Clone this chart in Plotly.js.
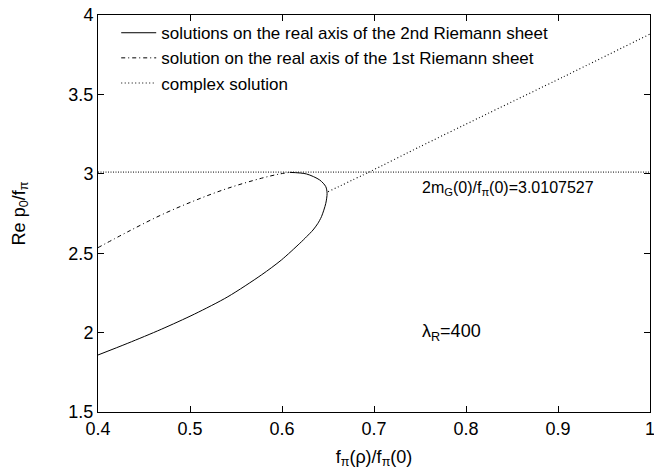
<!DOCTYPE html>
<html>
<head>
<meta charset="utf-8">
<script src="https://cdn.plot.ly/plotly-3.0.1.min.js"></script>
<style>
html,body{margin:0;padding:0;background:#fff;}
#chart{width:654px;height:471px;}
</style>
</head>
<body>
<div id="chart"></div>
<script>
// 2nd Riemann sheet (solid), lower branch through the turning point to the top
var sheet2X = [0.400, 0.4324, 0.4688, 0.505, 0.5412, 0.5776, 0.5993, 0.6193, 0.6269, 0.6337, 0.6388, 0.6429, 0.6476, 0.6490, 0.6476, 0.6410, 0.6266, 0.6084];
var sheet2Y = [1.859, 1.933, 2.021, 2.117, 2.226, 2.363, 2.457, 2.562, 2.605, 2.646, 2.686, 2.730, 2.814, 2.877, 2.919, 2.961, 2.999, 3.009];
// 1st Riemann sheet (dash-dot)
var sheet1X = [0.400, 0.4324, 0.4688, 0.505, 0.5412, 0.5776, 0.5975, 0.6084];
var sheet1Y = [2.535, 2.635, 2.741, 2.831, 2.909, 2.972, 2.999, 3.009];
// complex solution (dotted)
var complexX = [0.650, 0.695, 0.750, 0.815, 0.906, 1.000];
var complexY = [2.887, 3.012, 3.171, 3.355, 3.611, 3.880];
// threshold 2mG(0)/fπ(0)
var thresholdX = [0.4, 1.0];
var thresholdValue = 3.0107527;
var thresholdY = [thresholdValue, thresholdValue];

var legendNames = [
  'solutions on the real axis of the 2nd Riemann sheet',
  'solution on the real axis of the 1st Riemann sheet',
  'complex solution'
];
var xTicks = [0.4, 0.5, 0.6, 0.7, 0.8, 0.9, 1.0];
var yTicks = [1.5, 2, 2.5, 3, 3.5, 4];

var FONT = 'Liberation Sans, Arial, Helvetica, sans-serif';

var traces = [
  {x: sheet2X, y: sheet2Y, mode: 'lines', name: legendNames[0],
   line: {color: '#000', width: 1, shape: 'spline', smoothing: 0.8}},
  {x: sheet1X, y: sheet1Y, mode: 'lines', name: legendNames[1],
   line: {color: '#000', width: 1, dash: '4px,3px,1px,3px', shape: 'spline', smoothing: 1}},
  {x: complexX, y: complexY, mode: 'lines', name: legendNames[2],
   line: {color: '#000', width: 1.1, dash: '1px,2.5px', shape: 'spline', smoothing: 0.6}},
  {x: thresholdX, y: thresholdY, mode: 'lines', showlegend: false,
   line: {color: '#000', width: 1, dash: '1px,1.5px'}}
];

var axisCommon = {
  showgrid: false, zeroline: false, showline: true, mirror: 'ticks',
  linecolor: '#000', linewidth: 1, ticks: 'inside', ticklen: 6, tickcolor: '#000',
  ticklabeloverflow: 'allow',
  tickfont: {family: FONT, size: 18, color: '#000'}
};

var layout = {
  width: 654, height: 471,
  margin: {l: 98, r: 4, t: 15, b: 59},
  paper_bgcolor: '#fff', plot_bgcolor: '#fff',
  font: {family: FONT, color: '#000'},
  xaxis: Object.assign({}, axisCommon, {
    range: [0.4, 1.0], tickvals: xTicks, ticktext: xTicks.map(function(v){return String(v);}),
    title: {text: 'f<sub>π</sub>(ρ)/f<sub>π</sub>(0)', font: {family: FONT, size: 18}, standoff: 12}
  }),
  yaxis: Object.assign({}, axisCommon, {
    range: [1.5, 4.0], tickvals: yTicks, ticktext: yTicks.map(function(v){return String(v);}),
    title: {text: 'Re p<sub>0</sub>/f<sub>π</sub>', font: {family: FONT, size: 18}, standoff: 38}
  }),
  legend: {
    x: 0.033, y: 0.9995, xanchor: 'left', yanchor: 'top',
    bgcolor: 'rgba(0,0,0,0)', borderwidth: 0,
    font: {family: FONT, size: 17, color: '#000'},
    itemwidth: 35,
    tracegroupgap: 0
  },
  annotations: [
    {x: 0.75, y: 2.91, xref: 'x', yref: 'y', xanchor: 'left', yanchor: 'middle', showarrow: false,
     text: '2m<sub>G</sub>(0)/f<sub>π</sub>(0)=' + thresholdValue.toFixed(7),
     font: {family: FONT, size: 16, color: '#000'}},
    {x: 0.75, y: 2.0, xref: 'x', yref: 'y', xanchor: 'left', yanchor: 'middle', showarrow: false,
     text: 'λ<sub>R</sub>=400',
     font: {family: FONT, size: 18, color: '#000'}}
  ],
  showlegend: true
};

Plotly.newPlot('chart', traces, layout, {displayModeBar: false, staticPlot: true});
</script>
</body>
</html>
